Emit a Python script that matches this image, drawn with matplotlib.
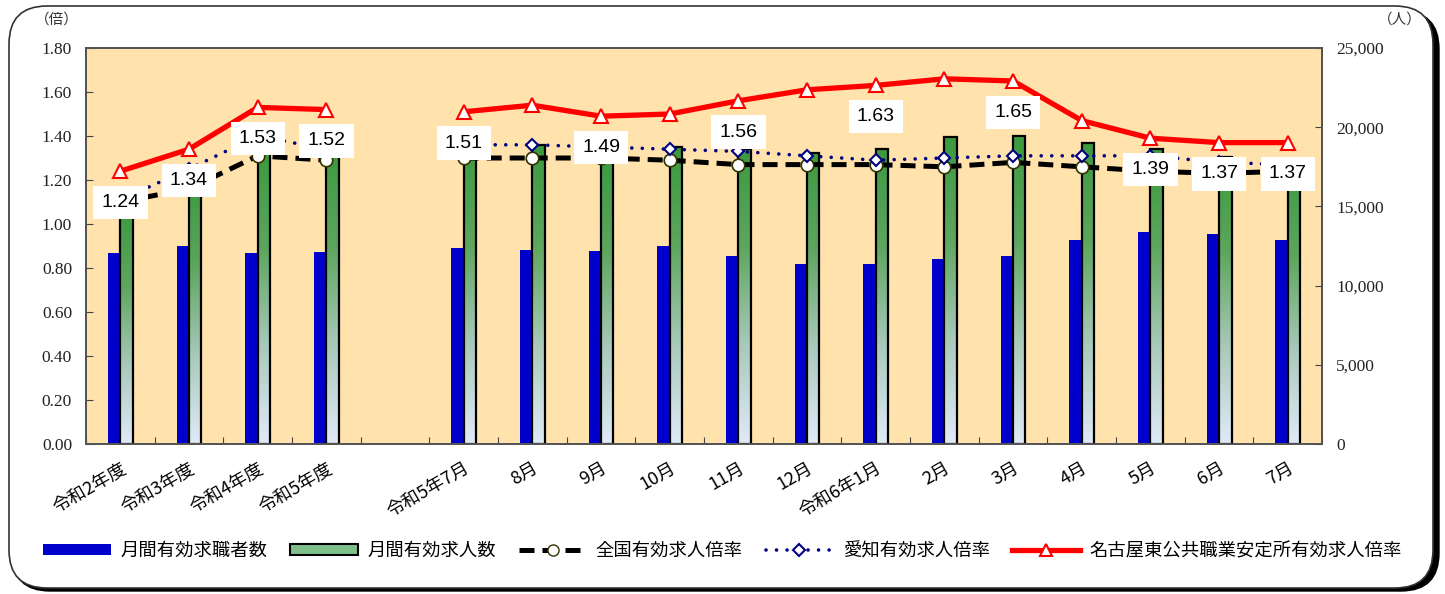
import matplotlib
matplotlib.use("Agg")
import matplotlib.pyplot as plt
import numpy as np
from matplotlib.colors import LinearSegmentedColormap
from matplotlib.patches import FancyBboxPatch, Patch
from matplotlib.lines import Line2D
from matplotlib.ticker import FuncFormatter

plt.rcParams['font.family'] = ['Noto Sans CJK JP', 'DejaVu Sans']

nan = np.nan
categories = ['令和2年度', '令和3年度', '令和4年度', '令和5年度', '',
              '令和5年7月', '8月', '9月', '10月', '11月', '12月', '令和6年1月',
              '2月', '3月', '4月', '5月', '6月', '7月']
# 月間有効求職者数 / 月間有効求人数 (人, right axis)
seekers = [12030, 12470, 12030, 12150, nan,
           12390, 12260, 12200, 12530, 11900, 11390, 11390,
           11690, 11840, 12910, 13400, 13250, 12890]
openings = [14910, 16710, 18400, 18470, nan,
            18700, 18860, 18170, 18780, 18600, 18380, 18600,
            19410, 19470, 19030, 18630, 18150, 17660]
# 倍率 (left axis)
national = [1.10, 1.16, 1.31, 1.29, nan,
            1.30, 1.30, 1.30, 1.29, 1.27, 1.27, 1.27,
            1.26, 1.28, 1.26, 1.24, 1.23, 1.24]
aichi = [1.11, 1.25, 1.40, 1.34, nan,
         1.36, 1.36, 1.35, 1.34, 1.33, 1.31, 1.29,
         1.30, 1.31, 1.31, 1.31, 1.28, 1.27]
nagoya_east = [1.24, 1.34, 1.53, 1.52, nan,
               1.51, 1.54, 1.49, 1.50, 1.56, 1.61, 1.63,
               1.66, 1.65, 1.47, 1.39, 1.37, 1.37]
label_idx = [0, 1, 2, 3, 5, 7, 9, 11, 13, 15, 16, 17]

legend_names = ['月間有効求職者数', '月間有効求人数', '全国有効求人倍率',
                '愛知有効求人倍率', '名古屋東公共職業安定所有効求人倍率']

fig = plt.figure(figsize=(14.45, 5.94), dpi=100)

# rounded frame with shadow
shadow = FancyBboxPatch((0.12, 0.03), 14.27, 5.80, boxstyle="round,pad=0,rounding_size=0.38",
                        transform=fig.dpi_scale_trans, facecolor='black', edgecolor='black', zorder=-2)
frame = FancyBboxPatch((0.09, 0.06), 14.24, 5.82, boxstyle="round,pad=0,rounding_size=0.38",
                       transform=fig.dpi_scale_trans, facecolor='white', edgecolor='#333333',
                       linewidth=1.2, zorder=-1)
fig.patches.extend([shadow, frame])

ax = fig.add_axes([0.0595, 0.2525, 0.8555, 0.6667])
axb = ax.twinx()
ax.set_zorder(axb.get_zorder() + 1)
ax.patch.set_visible(False)
axb.patch.set_visible(True)
axb.patch.set_facecolor('#FFE2AC')

x = np.arange(len(categories))
seekers = np.array(seekers, dtype=float)
openings = np.array(openings, dtype=float)

# bars (right axis)
ok = ~np.isnan(seekers)
axb.bar(x[ok] - 0.09, seekers[ok], width=0.18, color='#0000CC', zorder=2)
gbars = axb.bar(x[ok] + 0.09, openings[ok], width=0.18, facecolor='none',
                edgecolor='black', linewidth=1.6, zorder=3)
cmap = LinearSegmentedColormap.from_list('g', ['#e0eaf8', '#a9c9ba', '#5ea65e', '#3c9a3f'])
grad = np.linspace(0, 1, 256).reshape(-1, 1)
for b in gbars:
    x0, w, h = b.get_x(), b.get_width(), b.get_height()
    im = axb.imshow(grad, extent=[x0, x0 + w, 0, h], aspect='auto', cmap=cmap,
                    origin='lower', zorder=2)
    im.set_clip_path(b)

# lines (left axis)
ax.plot(x, national, color='black', lw=3.6, ls=(0, (3, 1.6)), marker='o', ms=9,
        mfc='white', mec='#333300', mew=1.2, zorder=4)
ax.plot(x, aichi, color='#000080', lw=2.6, ls=(0, (0.01, 2.9)), dash_capstyle='round',
        marker='D', ms=6.5, mfc='white', mec='#000080', mew=1.5, zorder=4)
ax.plot(x, nagoya_east, color='#FF0000', lw=3.8, marker='^', ms=9.5,
        mfc='white', mec='#FF0000', mew=1.5, zorder=5)

for i in label_idx:
    ax.annotate(f'{nagoya_east[i]:.2f}', (x[i], nagoya_east[i]), xytext=(0, -22.5),
                textcoords='offset points', ha='center', va='center', fontsize=14,
                family=['Liberation Sans Narrow', 'Liberation Sans'],
                bbox=dict(boxstyle='square,pad=0.42', fc='white', ec='none'), zorder=6)

ax.set_xlim(-0.5, len(categories) - 0.5)
ax.set_ylim(0, 1.8)
axb.set_ylim(0, 25000)

ax.set_yticks(np.arange(0, 1.81, 0.2))
ax.yaxis.set_major_formatter(FuncFormatter(lambda v, p: f'{v:.2f}'))
axb.set_yticks(np.arange(0, 25001, 5000))
axb.yaxis.set_major_formatter(FuncFormatter(lambda v, p: f'{int(v):,}'))

ax.set_xticks(np.arange(-0.5, len(categories), 1.0))
ax.set_xticklabels([])
ax.set_xticks(x, minor=True)
ax.set_xticklabels(categories, minor=True, rotation=30, ha='right', va='top',
                   rotation_mode='anchor', fontsize=13)
ax.tick_params(axis='x', which='minor', length=0, pad=11)
ax.tick_params(axis='x', which='major', direction='in', length=5, color='#444444')
ax.tick_params(axis='y', direction='in', length=5, color='#444444', labelsize=12.5, pad=10)
axb.tick_params(axis='y', direction='in', length=5, color='#444444', labelsize=12.5, pad=10)
for t in ax.get_yticklabels() + axb.get_yticklabels():
    t.set_family('Liberation Serif')
    t.set_color('#222222')

for a in (ax, axb):
    for s in a.spines.values():
        s.set_color('#555555')
        s.set_linewidth(1.4)

fig.text(57 / 1445, 1 - 20 / 594, '（倍）', ha='center', va='center', fontsize=10.5, color='#333333')
fig.text(1400 / 1445, 1 - 20 / 594, '（人）', ha='center', va='center', fontsize=10.5, color='#333333')

handles = [
    Patch(facecolor='#0000CC', edgecolor='none'),
    Patch(facecolor='#7fbf8a', edgecolor='black', linewidth=1.5),
    Line2D([], [], color='black', lw=3.6, ls=(0, (3, 1.6)), marker='o', ms=8,
           mfc='white', mec='#333300'),
    Line2D([], [], color='#000080', lw=2.6, ls=(0, (0.01, 2.9)), dash_capstyle='round',
           marker='D', ms=6, mfc='white', mec='#000080', mew=1.5),
    Line2D([], [], color='#FF0000', lw=3.8, marker='^', ms=9, mfc='white', mec='#FF0000', mew=1.5),
]
fig.legend(handles, legend_names, loc='center', bbox_to_anchor=(0.5, 0.072), ncol=5,
           frameon=False, fontsize=13.2, handlelength=3.7, handleheight=0.5,
           handletextpad=0.5, columnspacing=1.25)

fig.savefig('out.png', dpi=100)
